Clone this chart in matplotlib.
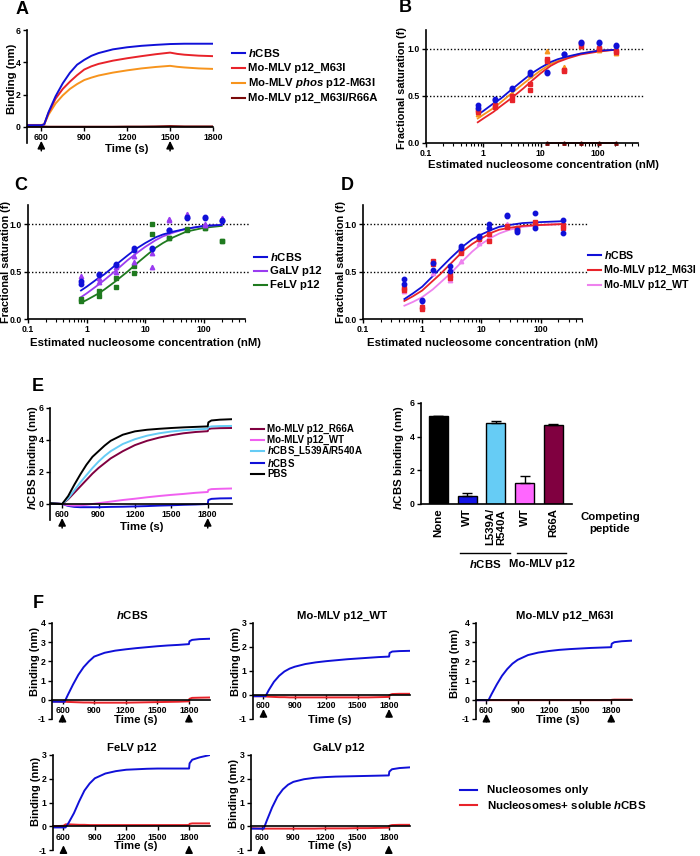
import matplotlib
matplotlib.use("Agg")
import matplotlib.pyplot as plt
import matplotlib.transforms as mtrans
from matplotlib.lines import Line2D

plt.rcParams['font.family'] = ['Liberation Sans', 'DejaVu Sans']
plt.rcParams['font.weight'] = 'bold'
plt.rcParams['axes.labelweight'] = 'bold'
plt.rcParams['axes.unicode_minus'] = False
plt.rcParams['mathtext.fontset'] = 'custom'
plt.rcParams['mathtext.it'] = 'Liberation Sans:italic:bold'
plt.rcParams['mathtext.rm'] = 'Liberation Sans:bold'
plt.rcParams['mathtext.bf'] = 'Liberation Sans:bold'

HCBS = r'$\it{h}$CBS'
LAB = 8.2   # axis label size
LEG = 8.2   # legend text size
TICK = 6.3

# ===================== data =====================
# A: binding kinetics (nm)
a_time = [500, 600, 620, 650, 700, 750, 800, 850, 900, 950, 1000, 1100, 1200, 1300, 1400, 1500, 1550, 1600, 1700, 1800]
a_hcbs = [0.1, 0.1, 0.15, 0.9, 1.9, 2.7, 3.35, 3.85, 4.15, 4.4, 4.57, 4.8, 4.93, 5.02, 5.08, 5.13, 5.14, 5.15, 5.15, 5.15]
a_m63i = [0.1, 0.1, 0.15, 0.85, 1.75, 2.35, 2.8, 3.2, 3.55, 3.75, 3.9, 4.1, 4.25, 4.38, 4.5, 4.6, 4.52, 4.47, 4.41, 4.38]
a_phos = [0.12, 0.12, 0.15, 0.75, 1.45, 1.95, 2.35, 2.65, 2.9, 3.05, 3.18, 3.36, 3.5, 3.62, 3.71, 3.78, 3.72, 3.68, 3.62, 3.59]
a_r66a = [0.02, 0.02, 0.02, 0.01, 0.01, 0.01, 0.01, 0.01, 0.01, 0.01, 0.01, 0.01, 0.02, 0.02, 0.03, 0.05, 0.04, 0.03, 0.03, 0.03]

# B/C: titration, 2-fold series
bc_conc = [0.8, 1.6, 3.2, 6.4, 12.8, 25.6, 51.2, 102.4, 204.8]
hcbs_rep1 = [0.40, 0.47, 0.58, 0.75, 0.75, 0.94, 1.07, 1.07, 1.04]
hcbs_rep2 = [0.37, 0.46, 0.57, 0.73, 0.74, 0.94, 1.06, 1.06, 1.03]
b_m63i_rep1 = [0.35, 0.40, 0.50, 0.63, 0.89, 0.78, 1.06, 1.00, 0.98]
b_m63i_rep2 = [0.33, 0.38, 0.46, 0.56, 0.87, 0.76, 1.03, 1.01, 0.97]
b_phos = [0.31, 0.40, 0.52, 0.72, 0.98, 0.81, 1.03, 0.99, 0.96]
b_r66a_conc = [12.8, 25.6, 51.2, 102.4, 204.8]
b_r66a = [0.0, 0.0, 0.0, 0.0, 0.0]
c_galv_rep1 = [0.45, 0.43, 0.55, 0.66, 0.69, 1.05, 1.11, 1.00, 1.06]
c_galv_rep2 = [0.41, 0.39, 0.50, 0.60, 0.55, 1.04, 1.08, 0.99, 1.05]
c_felv_rep1 = [0.21, 0.29, 0.43, 0.56, 1.00, 0.85, 0.94, 0.96, 0.82]
c_felv_rep2 = [0.19, 0.24, 0.34, 0.48, 0.90, 0.85, 0.95, 0.96, 0.82]

# fitted curves
fit_conc = [0.8, 1, 1.5, 2, 3, 5, 7, 10, 15, 20, 30, 50, 100, 200]
fit_hcbs = [0.30, 0.34, 0.42, 0.47, 0.56, 0.67, 0.74, 0.80, 0.86, 0.89, 0.92, 0.95, 0.98, 0.99]
fit_phos = [0.26, 0.30, 0.37, 0.43, 0.52, 0.63, 0.70, 0.77, 0.84, 0.87, 0.91, 0.95, 0.98, 0.99]
fit_m63i = [0.22, 0.26, 0.33, 0.39, 0.47, 0.58, 0.66, 0.74, 0.82, 0.86, 0.90, 0.94, 0.97, 0.99]
fit_galv = [0.23, 0.27, 0.35, 0.41, 0.50, 0.62, 0.69, 0.76, 0.83, 0.87, 0.91, 0.95, 0.98, 0.99]
fit_felv = [0.17, 0.20, 0.26, 0.31, 0.39, 0.50, 0.58, 0.66, 0.75, 0.80, 0.86, 0.92, 0.96, 0.98]

# D: titration, mixed series
d_conc = [0.5, 1, 1.5, 3, 4.5, 9, 13.5, 27, 40.5, 81, 243]
d_hcbs_rep1 = [0.42, 0.20, 0.59, 0.56, 0.77, 0.87, 1.00, 1.09, 0.94, 1.12, 1.04]
d_hcbs_rep2 = [0.37, 0.19, 0.52, 0.51, 0.75, 0.86, 0.96, 1.08, 0.92, 0.96, 0.91]
d_m63i_rep1 = [0.33, 0.13, 0.61, 0.46, 0.72, 0.85, 0.90, 0.98, 0.96, 1.02, 0.99]
d_m63i_rep2 = [0.31, 0.11, 0.58, 0.43, 0.70, 0.84, 0.82, 0.97, 0.95, 0.99, 0.96]
d_wt = [0.30, 0.14, 0.48, 0.41, 0.61, 0.80, 0.86, 1.00, 0.94, 1.00, 0.98]
d_fit_conc = [0.5, 0.7, 1, 1.5, 2, 3, 5, 7, 10, 15, 20, 30, 50, 100, 250]
d_fit_hcbs = [0.21, 0.27, 0.34, 0.45, 0.53, 0.64, 0.77, 0.84, 0.89, 0.94, 0.97, 0.99, 1.01, 1.02, 1.03]
d_fit_m63i = [0.19, 0.24, 0.30, 0.40, 0.47, 0.58, 0.72, 0.79, 0.85, 0.91, 0.94, 0.96, 0.98, 0.99, 1.00]
d_fit_wt = [0.14, 0.18, 0.23, 0.31, 0.38, 0.48, 0.62, 0.71, 0.79, 0.86, 0.90, 0.94, 0.97, 0.99, 1.00]

# E: competition kinetics
e_time = [500, 600, 650, 700, 750, 800, 850, 900, 950, 1000, 1100, 1200, 1300, 1400, 1500, 1600, 1700, 1800, 1805, 1830, 1900, 2000]
e_pbs = [0.05, 0.0, 0.5, 1.2, 1.85, 2.45, 2.95, 3.3, 3.65, 3.95, 4.33, 4.54, 4.64, 4.7, 4.75, 4.79, 4.82, 4.85, 5.1, 5.22, 5.27, 5.3]
e_l539a = [0.05, 0.0, 0.35, 0.85, 1.35, 1.8, 2.25, 2.65, 3.0, 3.3, 3.75, 4.05, 4.27, 4.42, 4.53, 4.61, 4.66, 4.7, 4.8, 4.85, 4.87, 4.88]
e_r66a = [0.05, 0.0, 0.3, 0.7, 1.1, 1.5, 1.9, 2.25, 2.55, 2.85, 3.3, 3.68, 3.95, 4.15, 4.3, 4.42, 4.5, 4.55, 4.68, 4.72, 4.74, 4.75]
e_wt = [0.05, 0.0, -0.08, -0.1, -0.08, -0.05, 0.0, 0.05, 0.1, 0.15, 0.25, 0.33, 0.42, 0.5, 0.57, 0.63, 0.7, 0.75, 0.88, 0.93, 0.95, 0.97]
e_hcbs = [0.05, 0.0, -0.12, -0.18, -0.2, -0.2, -0.2, -0.2, -0.19, -0.18, -0.17, -0.15, -0.13, -0.1, -0.08, -0.05, -0.03, 0.0, 0.25, 0.32, 0.35, 0.36]

# E: bar chart
bar_labels = ['None', 'WT', 'L539A/\nR540A', 'WT', 'R66A']
bar_values = [5.2, 0.45, 4.82, 1.27, 4.72]
bar_errors = [0.03, 0.2, 0.1, 0.4, 0.05]
bar_colors = ['#000000', '#1414e6', '#66ccf5', '#ff66ff', '#800040']

# F: nucleosome binding
f_time = [500, 600, 620, 650, 700, 750, 800, 850, 900, 1000, 1100, 1200, 1300, 1400, 1500, 1600, 1700, 1800, 1805, 1830, 1900, 2000]
f_hcbs_nuc = [-0.1, -0.1, -0.1, 0.25, 0.8, 1.3, 1.7, 2.0, 2.25, 2.45, 2.56, 2.63, 2.69, 2.74, 2.79, 2.83, 2.86, 2.9, 3.05, 3.12, 3.16, 3.18]
f_hcbs_sol = [-0.08, -0.1, -0.1, -0.11, -0.12, -0.13, -0.14, -0.14, -0.15, -0.15, -0.15, -0.15, -0.14, -0.13, -0.12, -0.11, -0.1, -0.08, 0.05, 0.1, 0.11, 0.12]
f_wt_nuc = [-0.05, -0.05, -0.05, 0.2, 0.55, 0.8, 0.98, 1.1, 1.18, 1.29, 1.36, 1.41, 1.45, 1.49, 1.52, 1.55, 1.58, 1.6, 1.75, 1.81, 1.83, 1.84]
f_wt_sol = [-0.05, -0.05, -0.06, -0.07, -0.08, -0.09, -0.09, -0.1, -0.1, -0.1, -0.1, -0.1, -0.1, -0.1, -0.1, -0.1, -0.09, -0.08, 0.0, 0.04, 0.05, 0.05]
f_m63i_nuc = [-0.02, -0.02, -0.02, 0.3, 0.8, 1.25, 1.6, 1.88, 2.08, 2.33, 2.46, 2.54, 2.6, 2.64, 2.67, 2.7, 2.72, 2.74, 2.92, 3.0, 3.05, 3.08]
f_m63i_sol = [-0.02, -0.02, -0.02, -0.02, -0.02, -0.02, -0.02, -0.02, -0.02, -0.02, -0.02, -0.02, -0.02, -0.02, -0.02, -0.02, -0.02, -0.02, 0.0, 0.01, 0.01, 0.01]
f_felv_nuc = [-0.05, -0.05, -0.05, 0.15, 0.55, 1.05, 1.5, 1.8, 2.02, 2.22, 2.32, 2.38, 2.4, 2.42, 2.43, 2.43, 2.43, 2.43, 2.65, 2.8, 2.9, 3.0]
f_felv_sol = [0.0, 0.02, 0.08, 0.08, 0.07, 0.06, 0.06, 0.05, 0.05, 0.05, 0.05, 0.05, 0.05, 0.05, 0.05, 0.05, 0.05, 0.05, 0.1, 0.12, 0.12, 0.12]
f_galv_nuc = [-0.1, -0.1, -0.1, 0.25, 0.8, 1.25, 1.55, 1.75, 1.87, 1.98, 2.04, 2.07, 2.09, 2.1, 2.11, 2.12, 2.13, 2.14, 2.3, 2.4, 2.45, 2.48]
f_galv_sol = [-0.08, -0.1, -0.1, -0.1, -0.1, -0.1, -0.1, -0.1, -0.1, -0.1, -0.1, -0.09, -0.09, -0.09, -0.08, -0.08, -0.07, -0.06, 0.02, 0.05, 0.06, 0.06]

# colours
BLUE = '#1010d8'
RED = '#e8232a'
ORANGE = '#f7941d'
DKRED = '#7a0a0a'
PURPLE = '#9a3cf0'
GREEN = '#1f7a1f'
PINK = '#ee82ee'

# ===================== layout helpers =====================
W, H = 700, 856
fig = plt.figure(figsize=(7, 8.56), dpi=100)


def add_ax(l, t, r, b):
    return fig.add_axes([l / W, 1 - b / H, (r - l) / W, (b - t) / H])


def style(ax):
    for s in ['top', 'right']:
        ax.spines[s].set_visible(False)
    for s in ['left', 'bottom']:
        ax.spines[s].set_linewidth(1.2)
    ax.tick_params(direction='out', length=3, width=1, labelsize=TICK, pad=1.5)
    ax.tick_params(which='minor', direction='out', length=2, width=0.8)


def ylab(ax, text, px, yc, size=LAB):
    ax.set_ylabel(text, fontsize=size, va='center')
    ax.yaxis.set_label_coords(px / W, yc,
                              transform=mtrans.blended_transform_factory(fig.transFigure, ax.transData))


def xlab(ax, text, px, py):
    ax.set_xlabel(text, fontsize=LAB, va='center')
    ax.xaxis.set_label_coords(px / W, 1 - py / H, transform=fig.transFigure)


def legend_rows(x, y0, dy, entries, seg=13, gap=3, size=LEG):
    for i, (label, color) in enumerate(entries):
        y = 1 - (y0 + i * dy) / H
        fig.add_artist(Line2D([x / W, (x + seg) / W], [y, y], color=color, lw=1.5,
                              transform=fig.transFigure))
        fig.text((x + seg + gap) / W, y, label, fontsize=size, va='center', ha='left')


def kinetic(ax, xmax, ymin, ymax, yticks):
    style(ax)
    ax.set_xlim(500, xmax)
    ax.set_ylim(ymin, ymax)
    ax.spines['bottom'].set_position(('data', 0))
    ax.spines['left'].set_bounds(ymin, ymax)
    ax.set_yticks(yticks)
    ax.set_xticks([600, 900, 1200, 1500, 1800])


def arrows(ax, xs, head_px, length_px=10):
    for x in xs:
        ax.annotate('', xy=(x, 0), xytext=(0, -(head_px + length_px) / 1.389),
                    textcoords='offset points', annotation_clip=False,
                    arrowprops=dict(arrowstyle='-|>,head_width=0.22,head_length=0.45',
                                    color='black', lw=1.1, mutation_scale=10,
                                    shrinkA=0, shrinkB=head_px / 1.389))


def titration(ax):
    style(ax)
    ax.set_xscale('log')
    ax.set_xlim(0.1, 500)
    ax.set_ylim(0, 1.2)
    ax.set_yticks([0.0, 0.5, 1.0])
    ax.set_yticklabels(['0.0', '0.5', '1.0'])
    ax.set_xticks([0.1, 1, 10, 100])
    ax.set_xticklabels(['0.1', '1', '10', '100'])
    for yv in (0.5, 1.0):
        ax.axhline(yv, xmin=0, xmax=1.025, color='black', lw=1, ls=(0, (1, 1.5)), clip_on=False)


def letter(txt, px, py):
    fig.text(px / W, 1 - py / H, txt, fontsize=13, fontweight='bold', ha='center', va='center')


# ===================== A =====================
ax = add_ax(27, 30, 213, 143)
kinetic(ax, 1800, -1, 6, [0, 2, 4, 6])
ax.plot(a_time, a_r66a, color=DKRED, lw=1.4)
ax.plot(a_time, a_phos, color=ORANGE, lw=1.4)
ax.plot(a_time, a_m63i, color=RED, lw=1.4)
ax.plot(a_time, a_hcbs, color=BLUE, lw=1.4)
ylab(ax, 'Binding (nm)', 12, 3)
xlab(ax, 'Time (s)', 127, 149)
arrows(ax, [600, 1500], 14)
legend_rows(232, 53, 15, [(HCBS, BLUE), ('Mo-MLV p12_M63I', RED),
                          (r'Mo-MLV $\it{phos}$ p12-M63I', ORANGE),
                          ('Mo-MLV p12_M63I/R66A', DKRED)])
letter('A', 22, 9)

# ===================== B =====================
ax = add_ax(426, 30, 638, 143)
titration(ax)
ax.plot(fit_conc, fit_phos, color=ORANGE, lw=1.3)
ax.plot(fit_conc, fit_m63i, color=RED, lw=1.3)
ax.plot(fit_conc, fit_hcbs, color=BLUE, lw=1.3)
ax.plot(b_r66a_conc, b_r66a, color=DKRED, lw=1.3, marker='^', ms=2.5, clip_on=False)
ax.plot(bc_conc, b_phos, ls='none', marker='^', ms=3.2, color=ORANGE)
ax.plot(bc_conc, b_m63i_rep1, ls='none', marker='s', ms=3.2, color=RED)
ax.plot(bc_conc, b_m63i_rep2, ls='none', marker='s', ms=3.2, color=RED)
ax.plot(bc_conc, hcbs_rep1, ls='none', marker='o', ms=3.2, color=BLUE)
ax.plot(bc_conc, hcbs_rep2, ls='none', marker='o', ms=3.2, color=BLUE)
ylab(ax, 'Fractional saturation (f)', 402, 0.58, size=7.8)
xlab(ax, 'Estimated nucleosome concentration (nM)', 543, 165)
letter('B', 405, 8)

# ===================== C =====================
ax = add_ax(28, 205, 245, 319)
titration(ax)
ax.plot(fit_conc, fit_felv, color=GREEN, lw=1.3)
ax.plot(fit_conc, fit_galv, color=PURPLE, lw=1.3)
ax.plot(fit_conc, fit_hcbs, color=BLUE, lw=1.3)
ax.plot(bc_conc, c_felv_rep1, ls='none', marker='s', ms=3.2, color=GREEN)
ax.plot(bc_conc, c_felv_rep2, ls='none', marker='s', ms=3.2, color=GREEN)
ax.plot(bc_conc, c_galv_rep1, ls='none', marker='^', ms=3.2, color=PURPLE)
ax.plot(bc_conc, c_galv_rep2, ls='none', marker='^', ms=3.2, color=PURPLE)
ax.plot(bc_conc, hcbs_rep1, ls='none', marker='o', ms=3.2, color=BLUE)
ax.plot(bc_conc, hcbs_rep2, ls='none', marker='o', ms=3.2, color=BLUE)
ylab(ax, 'Fractional saturation (f)', 6, 0.6, size=7.8)
xlab(ax, 'Estimated nucleosome concentration (nM)', 146, 343)
legend_rows(254, 257, 14, [(HCBS, BLUE), ('GaLV p12', PURPLE), ('FeLV p12', GREEN)])
letter('C', 21, 186)

# ===================== D =====================
ax = add_ax(363, 205, 582, 319)
titration(ax)
ax.plot(d_fit_conc, d_fit_wt, color=PINK, lw=1.3)
ax.plot(d_fit_conc, d_fit_m63i, color=RED, lw=1.3)
ax.plot(d_fit_conc, d_fit_hcbs, color=BLUE, lw=1.3)
ax.plot(d_conc, d_wt, ls='none', marker='^', ms=3.2, color=PINK)
ax.plot(d_conc, d_m63i_rep1, ls='none', marker='s', ms=3.2, color=RED)
ax.plot(d_conc, d_m63i_rep2, ls='none', marker='s', ms=3.2, color=RED)
ax.plot(d_conc, d_hcbs_rep1, ls='none', marker='o', ms=3.2, color=BLUE)
ax.plot(d_conc, d_hcbs_rep2, ls='none', marker='o', ms=3.2, color=BLUE)
ylab(ax, 'Fractional saturation (f)', 341, 0.6, size=7.8)
xlab(ax, 'Estimated nucleosome concentration (nM)', 483, 343)
legend_rows(588, 255, 15, [(HCBS, BLUE), ('Mo-MLV p12_M63I', RED), ('Mo-MLV p12_WT', PINK)],
            size=7.7)
letter('D', 347, 186)

# ===================== E (kinetics) =====================
ax = add_ax(50, 408, 232, 520)
kinetic(ax, 2000, -1, 6, [0, 2, 4, 6])
ax.plot(e_time, e_hcbs, color=BLUE, lw=1.4)
ax.plot(e_time, e_wt, color='#f060f0', lw=1.4)
ax.plot(e_time, e_r66a, color='#800040', lw=1.4)
ax.plot(e_time, e_l539a, color='#66ccf5', lw=1.4)
ax.plot(e_time, e_pbs, color='black', lw=1.4)
ylab(ax, HCBS + ' binding (nm)', 33, 2.9)
xlab(ax, 'Time (s)', 142, 527)
arrows(ax, [600, 1800], 14)
legend_rows(251, 429, 11.2, [('Mo-MLV p12_R66A', '#800040'), ('Mo-MLV p12_WT', '#f060f0'),
                             (HCBS + '_L539A/R540A', '#66ccf5'), (HCBS, BLUE), ('PBS', 'black')],
            size=7.0)
letter('E', 38, 387)

# ===================== E (bars) =====================
ax = add_ax(421, 403, 572, 504)
style(ax)
pos = list(range(len(bar_values)))
ax.bar(pos, bar_values, width=0.66, color=bar_colors, edgecolor='black', lw=1,
       yerr=[[0] * len(bar_errors), bar_errors], capsize=3.5,
       error_kw=dict(elinewidth=1, capthick=1, ecolor='black'))
ax.set_xlim(-0.6, 4.65)
ax.set_ylim(0, 6)
ax.set_yticks([0, 2, 4, 6])
ax.set_xticks(pos)
ax.set_xticklabels(bar_labels, rotation=90, fontsize=LAB, va='top', ha='center', multialignment='center')
ax.tick_params(axis='x', length=0, pad=3)
ylab(ax, HCBS + ' binding (nm)', 399, 2.75)
grp = mtrans.blended_transform_factory(ax.transData, fig.transFigure)
for x0, x1, name in [(0.77, 2.5, HCBS), (2.75, 4.45, 'Mo-MLV p12')]:
    ax.plot([x0, x1], [1 - 553 / H] * 2, color='black', lw=1, transform=grp, clip_on=False)
    ax.text((x0 + x1) / 2, 1 - 564 / H, name, transform=grp, fontsize=LAB, ha='center', va='center')
fig.text(610 / W, 1 - 523 / H, 'Competing\npeptide', fontsize=LAB, ha='center', va='center',
         linespacing=1.2)

# ===================== F =====================
f_panels = [
    ((52, 623, 210, 719), 4, HCBS, 0.51, f_hcbs_nuc, f_hcbs_sol, (35, 2.0), (136, 720), 14),
    ((253, 623, 410, 719), 3, 'Mo-MLV p12_WT', 0.57, f_wt_nuc, f_wt_sol, (236, 1.4), (330, 720), 14),
    ((476, 623, 632, 719), 4, 'Mo-MLV p12_M63I', 0.57, f_m63i_nuc, f_m63i_sol, (455, 1.9), (558, 720), 14),
    ((53, 755, 210, 850), 3, 'FeLV p12', 0.5, f_felv_nuc, f_felv_sol, (36, 1.45), (136, 846), 19),
    ((251, 755, 410, 850), 3, 'GaLV p12', 0.55, f_galv_nuc, f_galv_sol, (234, 1.4), (330, 846), 19),
]
for rect, ytop, title, tx, nuc, sol, ylpos, xlpos, head in f_panels:
    ax = add_ax(*rect)
    kinetic(ax, 2000, -1, ytop, list(range(-1, ytop + 1)))
    ax.plot(f_time, sol, color=RED, lw=1.4)
    ax.plot(f_time, nuc, color=BLUE, lw=1.4)
    ax.set_title(title, fontsize=8.2, fontweight='bold', x=tx, pad=3)
    ylab(ax, 'Binding (nm)', ylpos[0], ylpos[1], size=8)
    xlab(ax, 'Time (s)', xlpos[0], xlpos[1])
    arrows(ax, [600, 1800], head, 8)

legend_rows(460, 790, 15, [('Nucleosomes only', BLUE), ('Nucleosomes+ soluble ' + HCBS, RED)],
            seg=17, gap=10)
letter('F', 38, 603)

fig.savefig('out.png', dpi=100)
